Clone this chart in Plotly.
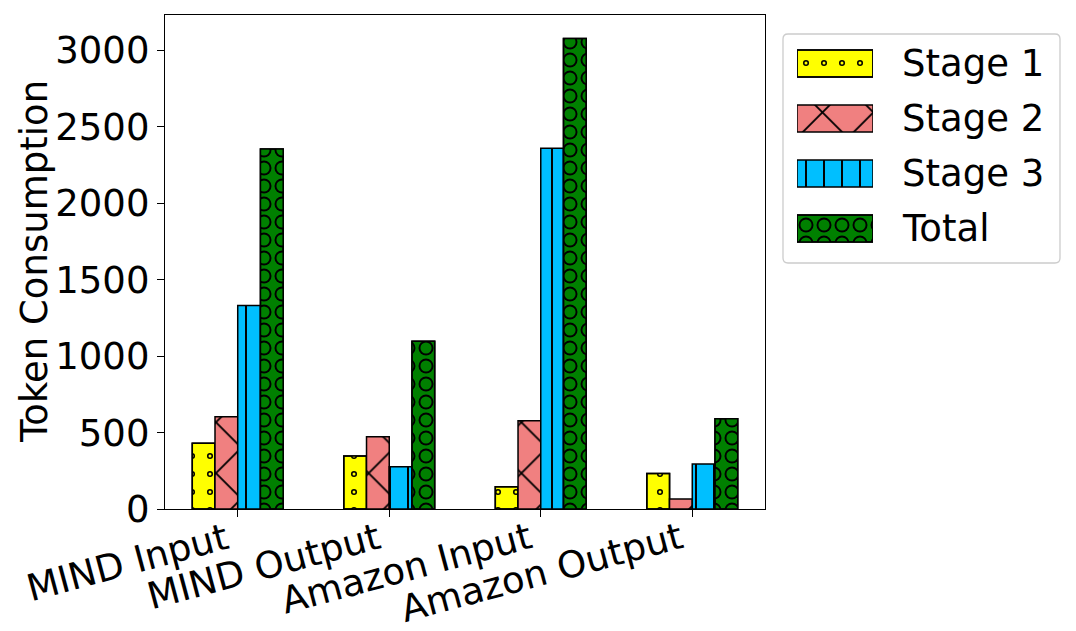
import plotly.graph_objects as go

categories = ["MIND Input", "MIND Output", "Amazon Input", "Amazon Output"]
series_names = ["Stage 1", "Stage 2", "Stage 3", "Total"]
stage1 = [430, 346, 146, 233]
stage2 = [603, 472, 577, 65]
stage3 = [1332, 276, 2360, 294]
total = [2355, 1097, 3078, 590]
y_ticks = [0, 500, 1000, 1500, 2000, 2500, 3000]
y_title = "Token Consumption"

series_values = [stage1, stage2, stage3, total]

W, H = 1076, 631
PL, PR, PT, PB = 165, 765, 15, 509
FONT = "DejaVu Sans"
FS = 37

def fx(p):
    return p / W

def fy(p):
    return 1 - p / H

colors = ["#FFFF00", "#F08080", "#00BFFF", "#008000"]
styles = [
    dict(shape=".", size=18, solidity=0.09, ring=0.022),
    dict(shape="x", size=36, solidity=0.1, ring=None),
    dict(shape="|", size=18, solidity=0.11, ring=None),
    dict(shape=".", size=18, solidity=0.545, ring=0.30),
]
offsets = [-0.3, -0.15, 0.0, 0.15]
bar_w = 0.15

fig = go.Figure()


def add_bars(x, y, color, st, xaxis, yaxis, orientation, width, offset):
    fig.add_trace(go.Bar(
        x=x, y=y, orientation=orientation, width=width, offset=offset,
        xaxis=xaxis, yaxis=yaxis, showlegend=False,
        marker=dict(color=color, line=dict(color="black", width=1.5),
                    pattern=dict(shape=st["shape"], size=st["size"], solidity=st["solidity"],
                                 fgcolor="black", fillmode="overlay", fgopacity=1)),
    ))
    if st["ring"]:
        fig.add_trace(go.Bar(
            x=x, y=y, orientation=orientation, width=width, offset=offset,
            xaxis=xaxis, yaxis=yaxis, showlegend=False,
            marker=dict(color="rgba(0,0,0,0)", line=dict(color="black", width=1.5),
                        pattern=dict(shape=".", size=st["size"], solidity=st["ring"],
                                     fgcolor=color, bgcolor="rgba(0,0,0,0)",
                                     fillmode="replace", fgopacity=1)),
        ))


for i, (name, vals) in enumerate(zip(series_names, series_values)):
    add_bars(categories, vals, colors[i], styles[i], "x", "y", "v", bar_w, offsets[i])

# legend swatches drawn as a small bar subplot
for i, name in enumerate(series_names):
    add_bars([1], [i], colors[i], styles[i], "x2", "y2", "h", 27 / 55, -27 / 110)

annotations = [
    dict(text=y_title, x=fx(34), y=fy(262), xref="paper", yref="paper",
         textangle=-90, showarrow=False, xanchor="center", yanchor="middle",
         font=dict(size=FS, family=FONT, color="black")),
]
for i, name in enumerate(series_names):
    annotations.append(dict(text=name, x=fx(900), y=fy(63.5 + 55 * i), xref="paper", yref="paper",
                            showarrow=False, xanchor="left", yanchor="middle",
                            font=dict(size=FS, family=FONT, color="black")))
# rotated category labels (right edge at the tick, like ha='right')
for c in categories:
    annotations.append(dict(text=c, x=c, y=fy(512), xref="x", yref="paper",
                            textangle=-15, showarrow=False, xanchor="right", yanchor="top",
                            xshift=-2, font=dict(size=FS, family=FONT, color="black")))

# legend frame with rounded corners
x0, x1, y0, y1 = fx(783), fx(1060), fy(263), fy(34)
rx, ry = 5 / W, 5 / H
path = (f"M{x0+rx},{y1} L{x1-rx},{y1} Q{x1},{y1} {x1},{y1-ry} L{x1},{y0+ry} "
        f"Q{x1},{y0} {x1-rx},{y0} L{x0+rx},{y0} Q{x0},{y0} {x0},{y0+ry} "
        f"L{x0},{y1-ry} Q{x0},{y1} {x0+rx},{y1} Z")

fig.update_layout(
    width=W, height=H,
    margin=dict(l=0, r=0, t=0, b=0),
    paper_bgcolor="white", plot_bgcolor="white",
    font=dict(family=FONT, size=FS, color="black"),
    barmode="group",
    showlegend=False,
    annotations=annotations,
    shapes=[dict(type="path", path=path, xref="paper", yref="paper",
                 line=dict(color="#cccccc", width=1.3), fillcolor="white", layer="below")],
    xaxis=dict(domain=[fx(PL), fx(PR)], type="category", range=[-0.48, 3.48],
               showticklabels=False, ticks="outside", ticklen=7, tickwidth=1.3, tickcolor="black",
               showline=True, linecolor="black", linewidth=1.3, mirror=True,
               showgrid=False, zeroline=False, automargin=False),
    yaxis=dict(domain=[fy(PB), fy(PT)], range=[0, 3232], tickmode="array", tickvals=y_ticks,
               ticks="outside", ticklen=7, tickwidth=1.3, tickcolor="black",
               showline=True, linecolor="black", linewidth=1.3, mirror=True,
               showgrid=False, zeroline=False, automargin=False,
               tickfont=dict(size=FS, family=FONT, color="black")),
    xaxis2=dict(domain=[fx(797), fx(873)], range=[0, 1], visible=False, anchor="y2"),
    yaxis2=dict(domain=[fy(256), fy(36)], range=[3.5, -0.5], visible=False, anchor="x2"),
)

fig.write_html("out.html", config={"displayModeBar": False},
               post_script="document.body.style.margin='0px';document.body.style.overflow='hidden';")
